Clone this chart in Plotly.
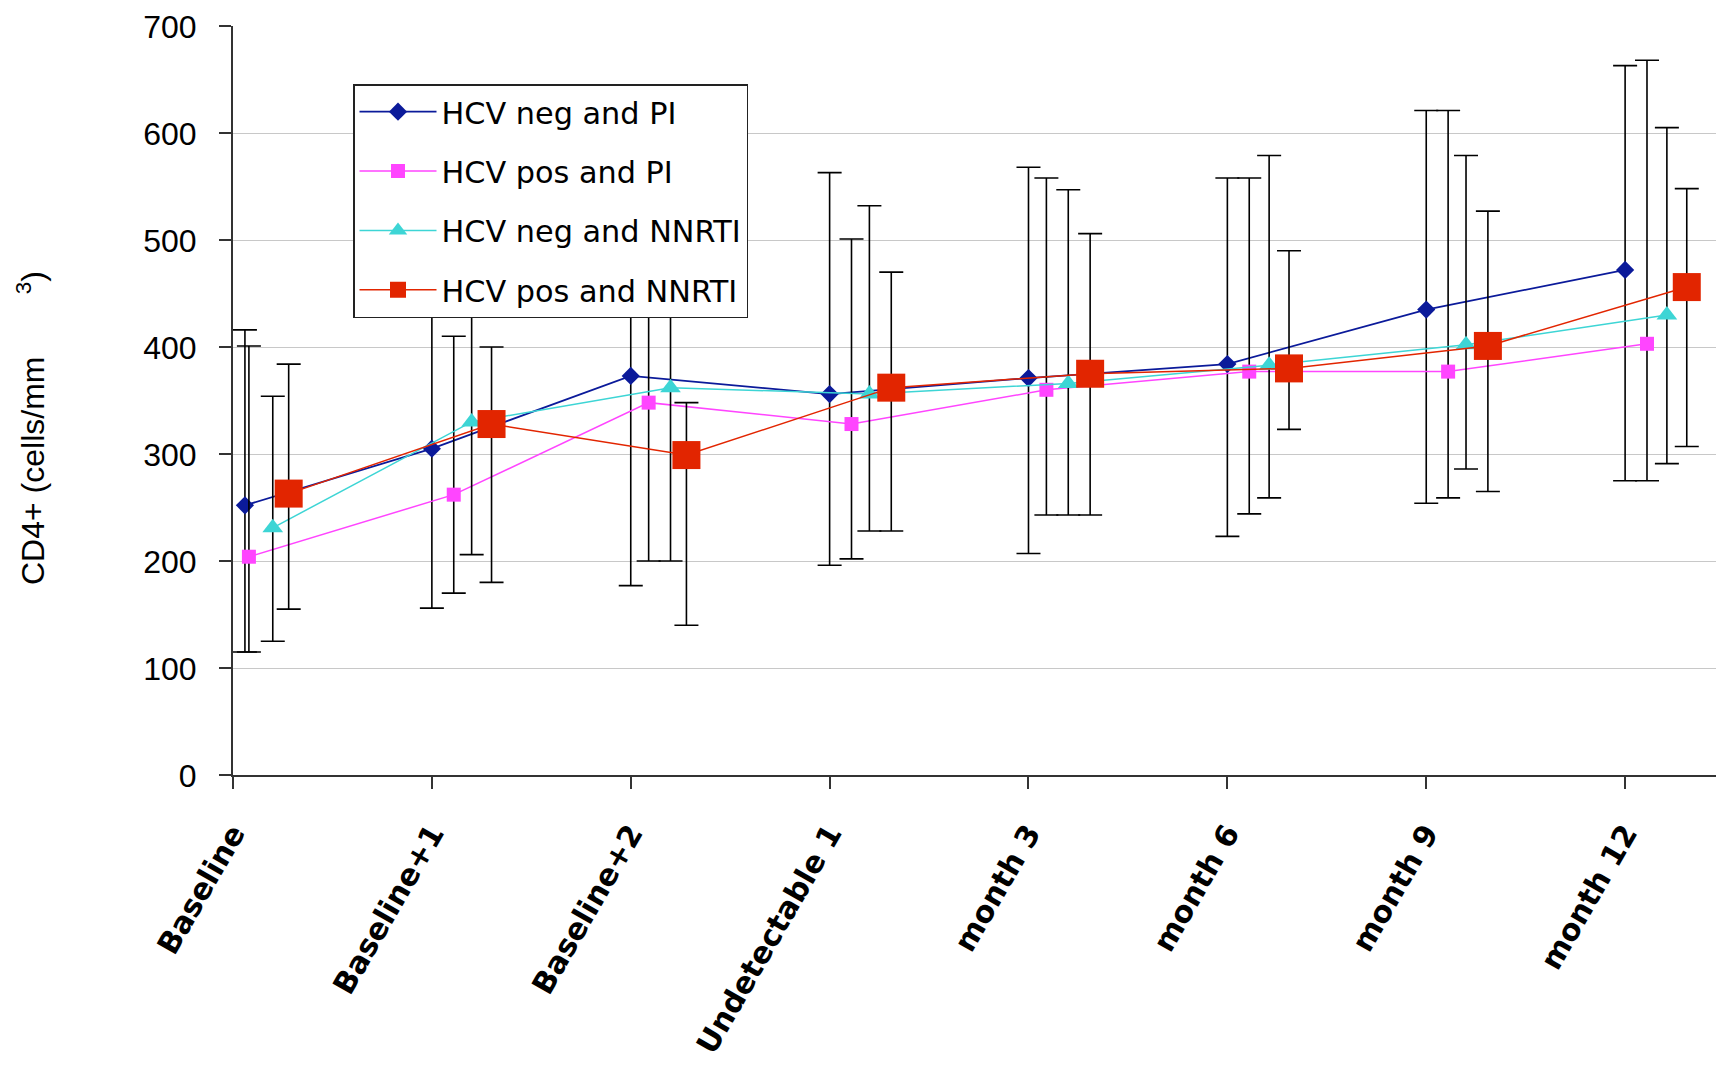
import plotly.graph_objects as go

categories = ["Baseline", "Baseline+1", "Baseline+2", "Undetectable 1",
              "month 3", "month 6", "month 9", "month 12"]
y_ticks = [0, 100, 200, 300, 400, 500, 600, 700]

names = ["HCV neg and PI", "HCV pos and PI", "HCV neg and NNRTI", "HCV pos and NNRTI"]

neg_pi_mean = [252, 305, 373, 356, 371, 384, 435, 472]
neg_pi_upper = [416, 455, 470, 563, 568, 558, 621, 663]
neg_pi_lower = [115, 156, 177, 196, 207, 223, 254, 275]
neg_pi_shift = [0.06, 0, 0, 0, 0, 0, 0, 0]

pos_pi_mean = [204, 262, 348, 328, 360, 377, 377, 403]
pos_pi_upper = [401, 410, 460, 501, 558, 558, 621, 668]
pos_pi_lower = [115, 170, 200, 202, 243, 244, 259, 275]
pos_pi_shift = [0.08, 0.11, 0.09, 0.11, 0.09, 0.11, 0.11, 0.11]

neg_nnrti_mean = [231, 330, 362, 356, 366, 383, 402, 430]
neg_nnrti_upper = [354, 465, 460, 532, 547, 579, 579, 605]
neg_nnrti_lower = [125, 206, 200, 228, 243, 259, 286, 291]
neg_nnrti_shift = [0.2, 0.2, 0.2, 0.2, 0.2, 0.21, 0.2, 0.21]

pos_nnrti_mean = [263, 328, 299, 362, 375, 380, 401, 456]
pos_nnrti_upper = [384, 400, 348, 470, 506, 490, 527, 548]
pos_nnrti_lower = [155, 180, 140, 228, 243, 323, 265, 307]
pos_nnrti_shift = [0.28, 0.3, 0.28, 0.31, 0.31, 0.31, 0.31, 0.31]

series = [
    (names[0], neg_pi_mean, neg_pi_upper, neg_pi_lower, neg_pi_shift, "#0B1A9A", "diamond", 14, 1.8),
    (names[1], pos_pi_mean, pos_pi_upper, pos_pi_lower, pos_pi_shift, "#FF45FF", "square", 14, 1.5),
    (names[2], neg_nnrti_mean, neg_nnrti_upper, neg_nnrti_lower, neg_nnrti_shift, "#3DD5D5", "triangle-up", 18, 1.5),
    (names[3], pos_nnrti_mean, pos_nnrti_upper, pos_nnrti_lower, pos_nnrti_shift, "#E22500", "square", 28, 1.5),
]

fig = go.Figure()
for name, mean, upper, lower, shift, color, symbol, msize, lw in series:
    xs = [i + s for i, s in enumerate(shift)]
    fig.add_trace(go.Scatter(
        x=xs, y=mean, name=name, legendgroup=name,
        mode="lines+markers",
        line=dict(color=color, width=lw),
        marker=dict(symbol=symbol, size=msize, color=color, line=dict(width=0)),
        error_y=dict(type="data", symmetric=False,
                     array=[u - m for u, m in zip(upper, mean)],
                     arrayminus=[m - l for m, l in zip(mean, lower)],
                     color="#000000", thickness=1.6, width=12),
    ))

# figure placed inside the page's default 8px body margin
W, H = 1708, 1051
ML, MT, MB = 225, 18, 284
PW, PH = W - ML, H - MT - MB

fig.update_layout(
    width=W, height=H,
    margin=dict(l=ML, r=0, t=MT, b=MB, autoexpand=False),
    paper_bgcolor="white", plot_bgcolor="white",
    showlegend=True,
    legend=dict(
        x=(345 - ML) / PW, y=1 - (76 - MT) / PH, xanchor="left", yanchor="top",
        bgcolor="white", bordercolor="#222222", borderwidth=1.5,
        font=dict(family="DejaVu Sans", size=30.3, color="#000000"),
        itemwidth=77, tracegroupgap=17, traceorder="grouped",
    ),
    annotations=[
        dict(text="CD4+ (cells/mm" + "\u00a0" * 7 + "<sup>3</sup>)",
             textangle=-90, showarrow=False,
             xref="paper", yref="paper",
             x=(23 - ML) / PW, y=1 - (579 - MT) / PH,
             xanchor="center", yanchor="bottom",
             font=dict(family="Liberation Sans, Arial", size=32, color="#000000")),
    ],
)

fig.update_xaxes(
    range=[0, 7.457], tickmode="array", tickvals=list(range(len(categories))),
    ticktext=categories, tickangle=-60, automargin=False,
    tickfont=dict(family="DejaVu Sans", size=30, color="#000000", weight="bold"),
    showline=True, linecolor="#333333", linewidth=2,
    ticks="outside", ticklen=12, tickcolor="#333333", tickwidth=1.5,
    showgrid=False, zeroline=False, ticklabelstandoff=15, ticklabeloverflow="allow",
)
fig.update_yaxes(
    range=[0, 700], tickmode="array", tickvals=y_ticks, automargin=False,
    tickfont=dict(family="Liberation Sans, Arial", size=32, color="#000000"),
    showline=True, linecolor="#333333", linewidth=2,
    ticks="outside", ticklen=12, tickcolor="#333333", tickwidth=1.5,
    showgrid=True, gridcolor="#C8C8C8", gridwidth=1.2, zeroline=False,
    ticklabelstandoff=16, ticklabelshift=1, ticklabeloverflow="allow",
)

fig.write_html("out.html")
